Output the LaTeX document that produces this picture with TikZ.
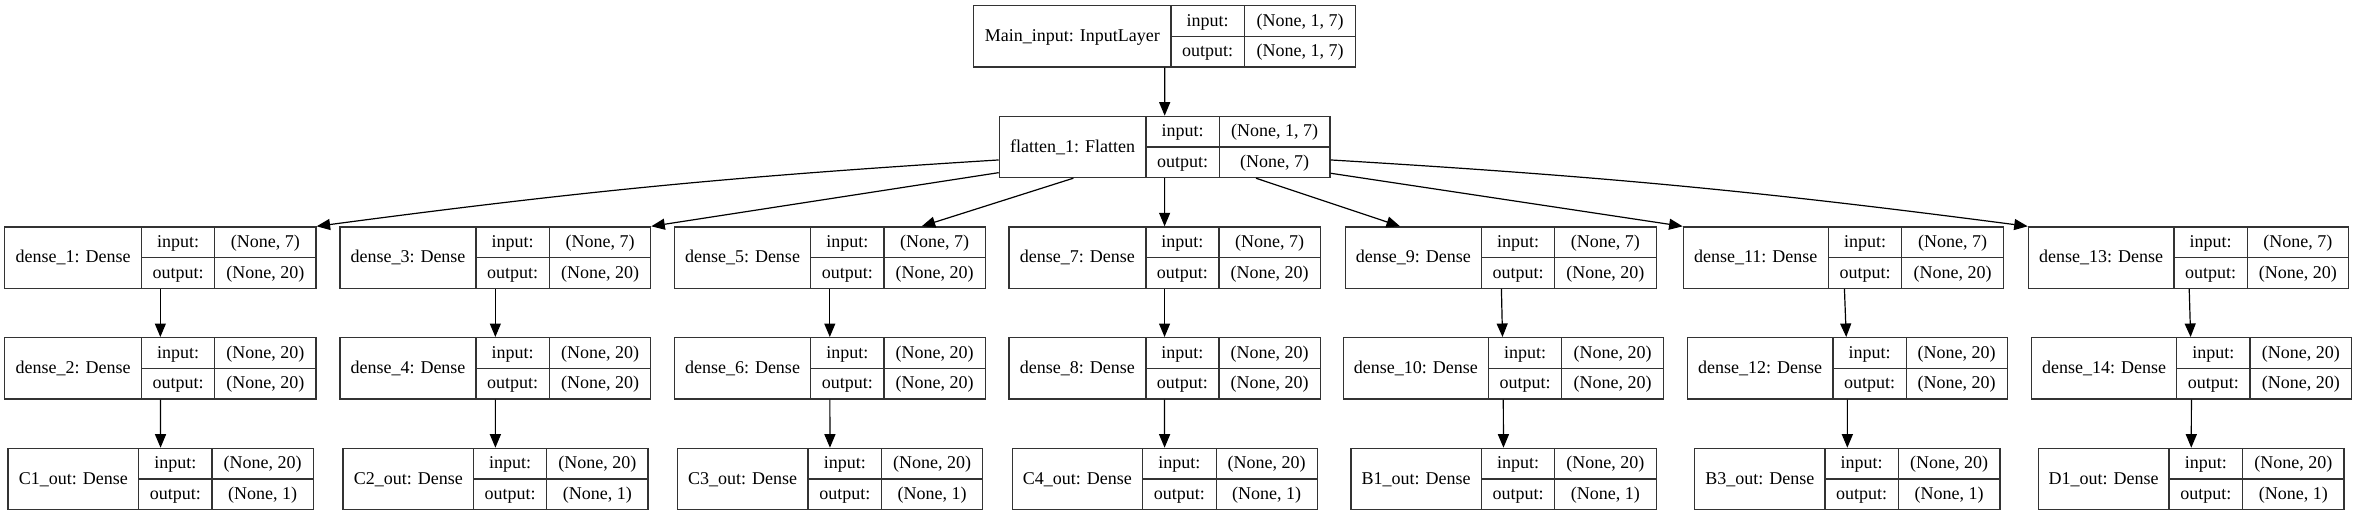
\documentclass[tikz,border=0pt]{standalone}
\usepackage{fontspec}
\setmainfont{Liberation Serif}
\usetikzlibrary{arrows.meta,fit}
\def\bh{61.3}
\tikzset{
  kbox/.style={draw=black!80, line width=1.2pt, inner sep=0pt, fill=white},
  kline/.style={draw=black!80, line width=1.2pt},
  ktext/.style={anchor=base, inner sep=0pt, font=\fontsize{18}{22}\selectfont},
  edge/.style={draw=black, line width=1.2pt, -{Triangle[length=13.5pt,width=11pt]}}
}
\newcommand\klayer[9]{%
  \node[kbox, fit={(#2,#6) (#5,#6+\bh)}] (#1) {};
  \draw[kline] (#3,#6) -- (#3,#6+\bh) (#4,#6) -- (#4,#6+\bh) (#3,#6+\bh/2) -- (#5,#6+\bh/2);
  \node[ktext] (#1-n) at ({(#2+#3)/2},#6+\bh/2+5.3) {#7};
  \node[ktext] (#1-il) at ({(#3+#4)/2},#6+\bh/4+5.3) {input:};
  \node[ktext] (#1-ol) at ({(#3+#4)/2},#6+3*\bh/4+5.3) {output:};
  \node[ktext] (#1-iv) at ({(#4+#5)/2},#6+\bh/4+5.3) {#8};
  \node[ktext] (#1-ov) at ({(#4+#5)/2},#6+3*\bh/4+5.3) {#9};
}
\begin{document}
\begin{tikzpicture}[x=1pt,y=-1pt]
\useasboundingbox (0,0) rectangle (2357,516);
% rank 0 and 1
\klayer{mi}{973.7}{1171}{1244.3}{1355.7}{5.7}{Main\_input: InputLayer}{(None, 1, 7)}{(None, 1, 7)}
\klayer{fl}{999.3}{1146}{1219.3}{1330}{116.3}{flatten\_1: Flatten}{(None, 1, 7)}{(None, 7)}
% rank 2
\klayer{d1}{4.7}{141.7}{214.7}{316}{226.9}{dense\_1: Dense}{(None, 7)}{(None, 20)}
\klayer{d3}{340}{476}{549.3}{650.7}{226.9}{dense\_3: Dense}{(None, 7)}{(None, 20)}
\klayer{d5}{674.3}{810.7}{883.9}{985.3}{226.9}{dense\_5: Dense}{(None, 7)}{(None, 20)}
\klayer{d7}{1008.9}{1145.9}{1218.9}{1320.2}{226.9}{dense\_7: Dense}{(None, 7)}{(None, 20)}
\klayer{d9}{1345.3}{1481.4}{1554.6}{1656.1}{226.9}{dense\_9: Dense}{(None, 7)}{(None, 20)}
\klayer{d11}{1683.2}{1828.2}{1901.8}{2003.3}{226.9}{dense\_11: Dense}{(None, 7)}{(None, 20)}
\klayer{d13}{2028.3}{2174}{2247.3}{2348.3}{226.9}{dense\_13: Dense}{(None, 7)}{(None, 20)}
% rank 3
\klayer{d2}{4.7}{141.7}{214.7}{316}{337.6}{dense\_2: Dense}{(None, 20)}{(None, 20)}
\klayer{d4}{340}{476}{549.3}{650.7}{337.6}{dense\_4: Dense}{(None, 20)}{(None, 20)}
\klayer{d6}{674.3}{810.7}{883.9}{985.3}{337.6}{dense\_6: Dense}{(None, 20)}{(None, 20)}
\klayer{d8}{1008.9}{1145.9}{1218.9}{1320.2}{337.6}{dense\_8: Dense}{(None, 20)}{(None, 20)}
\klayer{d10}{1343.2}{1488.6}{1561.8}{1663.2}{337.6}{dense\_10: Dense}{(None, 20)}{(None, 20)}
\klayer{d12}{1687.5}{1832.9}{1906.1}{2007.3}{337.6}{dense\_12: Dense}{(None, 20)}{(None, 20)}
\klayer{d14}{2031.3}{2176.7}{2250}{2351.7}{337.6}{dense\_14: Dense}{(None, 20)}{(None, 20)}
% rank 4
\klayer{c1}{8}{138.7}{212}{313.3}{448.3}{C1\_out: Dense}{(None, 20)}{(None, 1)}
\klayer{c2}{342.9}{473.6}{546.8}{647.9}{448.3}{C2\_out: Dense}{(None, 20)}{(None, 1)}
\klayer{c3}{677.5}{807.9}{881.8}{982.5}{448.3}{C3\_out: Dense}{(None, 20)}{(None, 1)}
\klayer{c4}{1012.1}{1142.5}{1216.1}{1317.1}{448.3}{C4\_out: Dense}{(None, 20)}{(None, 1)}
\klayer{b1}{1351}{1481.4}{1554.6}{1656.1}{448.3}{B1\_out: Dense}{(None, 20)}{(None, 1)}
\klayer{b3}{1694.6}{1825}{1898.2}{2000}{448.3}{B3\_out: Dense}{(None, 20)}{(None, 1)}
\klayer{e1}{2038.3}{2169}{2242.7}{2344}{448.3}{D1\_out: Dense}{(None, 20)}{(None, 1)}
% edges
\draw[edge] (mi) -- (fl);
\draw[edge] ([yshift=-13pt]fl.west) to[bend right=2] (d1.north east);
\draw[edge] ([yshift=-25.7pt]fl.west) -- (d3.north east);
\draw[edge] ([xshift=-91.3pt]fl.south) -- ([xshift=91.9pt]d5.north);
\draw[edge] (fl) -- (d7);
\draw[edge] ([xshift=91.3pt]fl.south) -- ([xshift=-100.7pt]d9.north);
\draw[edge] ([yshift=-26.3pt]fl.east) -- (d11.north west);
\draw[edge] ([yshift=-13pt]fl.east) to[bend left=2] (d13.north west);
\draw[edge] (d1) -- (d2);
\draw[edge] (d2) -- (c1);
\draw[edge] (d3) -- (d4);
\draw[edge] (d4) -- (c2);
\draw[edge] (d5) -- (d6);
\draw[edge] (d6) -- (c3);
\draw[edge] (d7) -- (d8);
\draw[edge] (d8) -- (c4);
\draw[edge] (d9) -- (d10);
\draw[edge] (d10) -- (b1);
\draw[edge] (d11) -- (d12);
\draw[edge] (d12) -- (b3);
\draw[edge] (d13) -- (d14);
\draw[edge] (d14) -- (e1);
\end{tikzpicture}
\end{document}
